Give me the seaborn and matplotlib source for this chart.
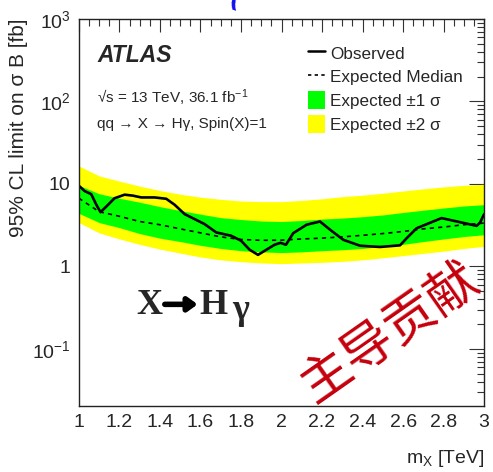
import numpy as np
import pandas as pd
import matplotlib
matplotlib.use("Agg")
import matplotlib.pyplot as plt
import seaborn as sns
from matplotlib.ticker import MultipleLocator, LogLocator, NullFormatter, FixedLocator, FixedFormatter
from matplotlib.lines import Line2D
from matplotlib.patches import Patch

# Expected limit bands (m_X in TeV, limits in fb)
mass_band = [1.0, 1.1, 1.2, 1.3, 1.4, 1.5, 1.6, 1.7, 1.8, 1.9, 2.0,
             2.1, 2.2, 2.3, 2.4, 2.5, 2.6, 2.7, 2.8, 2.9, 3.0]
exp_median = [6.7, 4.6, 4.05, 3.5, 3.2, 2.85, 2.55, 2.28, 2.12, 2.07, 2.08,
              2.15, 2.2, 2.28, 2.38, 2.5, 2.65, 2.85, 3.0, 3.2, 3.35]
exp_p1 = [9.6, 7.6, 6.7, 6.0, 5.3, 4.75, 4.3, 3.9, 3.7, 3.55, 3.5,
          3.6, 3.75, 3.85, 4.0, 4.2, 4.5, 4.8, 5.1, 5.4, 5.6]
exp_m1 = [4.4, 3.4, 2.95, 2.5, 2.2, 2.0, 1.8, 1.65, 1.55, 1.5, 1.47,
          1.5, 1.55, 1.59, 1.65, 1.75, 1.85, 2.0, 2.15, 2.3, 2.42]
exp_p2 = [16.5, 12.5, 10.8, 9.4, 8.3, 7.5, 6.9, 6.5, 6.2, 6.1, 6.1,
          6.3, 6.6, 7.0, 7.3, 7.7, 8.2, 8.7, 9.2, 9.6, 9.9]
exp_m2 = [3.4, 2.55, 2.15, 1.85, 1.62, 1.45, 1.3, 1.2, 1.14, 1.1, 1.08,
          1.1, 1.12, 1.15, 1.2, 1.27, 1.35, 1.44, 1.53, 1.65, 1.75]

# Observed limit
mass_obs = [1.0, 1.028, 1.061, 1.086, 1.107, 1.135, 1.176, 1.226, 1.267, 1.308,
            1.374, 1.431, 1.472, 1.522, 1.62, 1.678, 1.752, 1.80, 1.843, 1.884,
            1.925, 1.966, 1.995, 2.022, 2.058, 2.124, 2.19, 2.24, 2.305, 2.388,
            2.486, 2.585, 2.618, 2.667, 2.79, 2.963, 2.98, 3.0]
observed = [9.5, 8.2, 7.5, 5.6, 4.54, 5.3, 6.7, 7.4, 7.2, 6.85,
            6.85, 6.6, 5.6, 4.3, 3.26, 2.58, 2.35, 2.05, 1.59, 1.38,
            1.59, 1.83, 1.93, 1.83, 2.53, 3.2, 3.5, 2.78, 2.1, 1.78,
            1.72, 1.8, 2.2, 2.9, 3.85, 3.1, 3.4, 4.3]

x_ticks = [1, 1.2, 1.4, 1.6, 1.8, 2, 2.2, 2.4, 2.6, 2.8, 3]
x_ticklabels = ["1", "1.2", "1.4", "1.6", "1.8", "2", "2.2", "2.4", "2.6", "2.8", "3"]
y_ticks = [0.1, 1, 10, 100, 1000]
y_ticklabels = [r"$10^{-1}$", "1", "10", r"$10^{2}$", r"$10^{3}$"]

sns.set_style("white")
plt.rcParams["font.family"] = ["Liberation Sans", "DejaVu Sans"]
plt.rcParams["mathtext.fontset"] = "custom"
plt.rcParams["mathtext.rm"] = "Liberation Sans"
plt.rcParams["mathtext.it"] = "Liberation Sans:italic"
plt.rcParams["mathtext.bf"] = "Liberation Sans:bold"

fig = plt.figure(figsize=(4.93, 4.72), dpi=100)
ax = fig.add_axes([0.160, 0.1405, 0.822, 0.8195])

ax.fill_between(mass_band, exp_m2, exp_p2, color="#ffff00", lw=0)
ax.fill_between(mass_band, exp_m1, exp_p1, color="#00ff00", lw=0)

exp_df = pd.DataFrame({"m": mass_band, "lim": exp_median})
obs_df = pd.DataFrame({"m": mass_obs, "lim": observed})
sns.lineplot(data=exp_df, x="m", y="lim", ax=ax, color="black", lw=1.2,
             linestyle=(0, (2.5, 2.5)))
sns.lineplot(data=obs_df, x="m", y="lim", ax=ax, color="black", lw=1.9,
             solid_joinstyle="round", solid_capstyle="round")

ax.set_yscale("log")
ax.set_xlim(1, 3)
ax.set_ylim(0.0205, 1000)

# ROOT-like ticks
ax.xaxis.set_major_locator(FixedLocator(x_ticks))
ax.xaxis.set_major_formatter(FixedFormatter(x_ticklabels))
ax.xaxis.set_minor_locator(MultipleLocator(0.05))
ax.yaxis.set_major_locator(FixedLocator(y_ticks))
ax.yaxis.set_major_formatter(FixedFormatter(y_ticklabels))
ax.yaxis.set_minor_locator(LogLocator(base=10, subs=np.arange(2, 10), numticks=20))
ax.yaxis.set_minor_formatter(NullFormatter())
ax.tick_params(which="both", direction="in", top=True, right=True,
               labelsize=14, width=0.8, color="#333333")
ax.tick_params(which="major", length=11, pad=6)
ax.tick_params(axis="x", which="major", length=9)
ax.tick_params(which="minor", length=5)
for s in ax.spines.values():
    s.set_linewidth(1.0)
    s.set_color("#222222")

ax.set_xlabel(r"m$_{\mathrm{X}}$ [TeV]", fontsize=14, loc="right", labelpad=12)
ax.set_ylabel("95% CL limit on σ B [fb]", fontsize=15, loc="top", labelpad=3)

ax.text(0.045, 0.905, "ATLAS", transform=ax.transAxes, fontsize=16.5,
        fontweight="bold", fontstyle="italic", va="center")
ax.text(0.045, 0.797, "√s = 13 TeV, 36.1 fb$^{-1}$", transform=ax.transAxes,
        fontsize=11, va="center")
ax.text(0.045, 0.727, "qq → X → Hγ, Spin(X)=1",
        transform=ax.transAxes, fontsize=11, va="center")

handles = [Line2D([0], [0], color="black", lw=1.8),
           Line2D([0], [0], color="black", lw=1.2, linestyle=(0, (2, 2))),
           Patch(facecolor="#00ff00", edgecolor="none"),
           Patch(facecolor="#ffff00", edgecolor="none")]
labels = ["Observed", "Expected Median", "Expected ±1 σ", "Expected ±2 σ"]
ax.legend(handles, labels, loc="upper left", bbox_to_anchor=(0.565, 0.935), frameon=False,
          fontsize=12.3, handlelength=1.0, handleheight=1.2, handletextpad=0.3,
          labelspacing=0.36, borderaxespad=0, borderpad=0)

# big process label
ax.text(0.143, 0.26, "X", transform=ax.transAxes, fontsize=26, fontweight="bold",
        family="Liberation Serif", va="center")
ax.annotate("", xy=(0.293, 0.262), xytext=(0.212, 0.262), xycoords="axes fraction",
            arrowprops=dict(arrowstyle="-|>,head_length=0.55,head_width=0.4", lw=4,
                            color="black", shrinkA=0, shrinkB=0))
ax.text(0.298, 0.26, "H", transform=ax.transAxes, fontsize=26, fontweight="bold",
        family="Liberation Serif", va="center")
ax.text(0.378, 0.245, "γ", transform=ax.transAxes, fontsize=26, fontweight="bold",
        family="Liberation Serif", va="center")

ax.text(0.765, 0.19, "主导贡献", transform=ax.transAxes, fontsize=37, color="#c4000c",
        rotation=35, ha="center", va="center", fontweight="medium",
        family=["Noto Sans CJK SC", "DejaVu Sans"])

fig.text(0.478, 1.005, "(", color="#1010ee", fontsize=20, fontweight="bold",
         ha="center", va="center", rotation=-20)

fig.savefig("out.png", dpi=100)
